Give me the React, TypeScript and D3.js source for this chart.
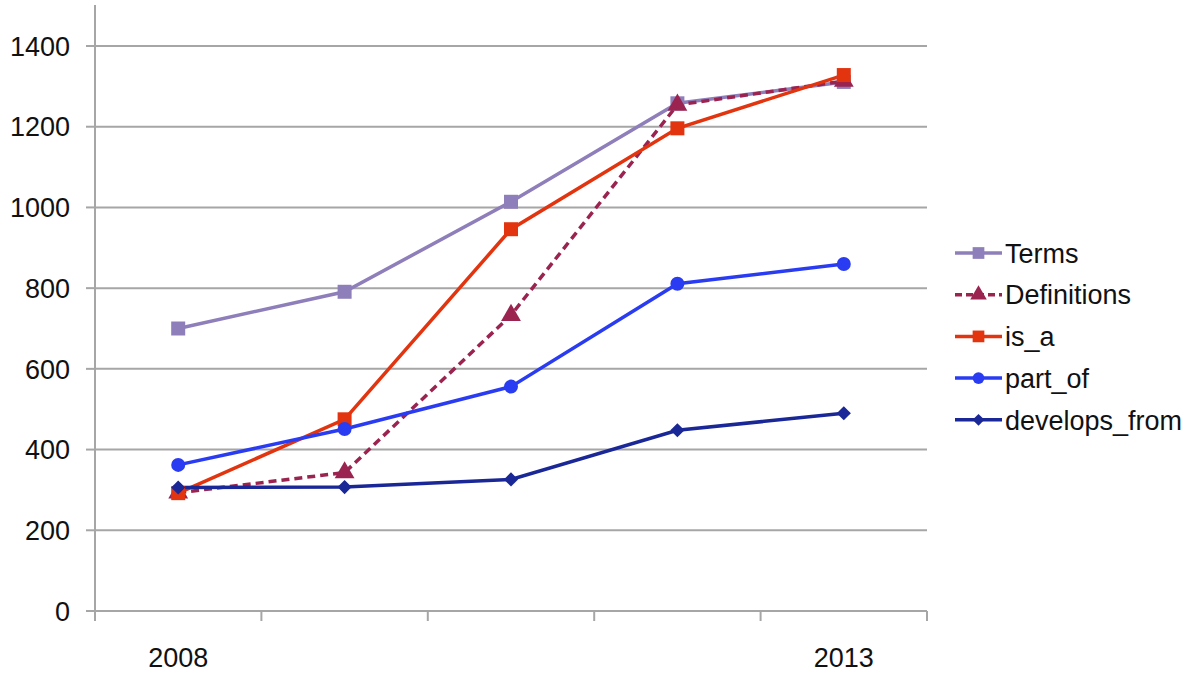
import React, { useRef, useEffect } from "react";
import * as d3 from "d3";

const categories = ["2008", "2009", "2010", "2011", "2013"];
const tickLabels = ["2008", "", "", "", "2013"];
const yTicks = [0, 200, 400, 600, 800, 1000, 1200, 1400];

const terms = [700, 791, 1014, 1258, 1311];
const definitions = [293, 343, 733, 1254, 1313];
const isA = [292, 475, 946, 1196, 1328];
const partOf = [362, 451, 556, 811, 860];
const developsFrom = [306, 307, 326, 448, 490];

const seriesNames = ["Terms", "Definitions", "is_a", "part_of", "develops_from"];
const seriesValues = [terms, definitions, isA, partOf, developsFrom];

const colors = ["#8E7EBA", "#9A2350", "#E2340F", "#2A3CF2", "#1A2796"];
const symbols = [d3.symbolSquare, d3.symbolTriangle, d3.symbolSquare, d3.symbolCircle, d3.symbolSquare];
const symbolSizes = [196, 170, 196, 154, 100];
const symbolRotate = [0, 0, 0, 0, 45];

const App = () => {
  const svgRef = useRef<SVGSVGElement>(null);

  useEffect(() => {
    const svg = d3.select(svgRef.current);
    svg.selectAll("*").remove();

    const left = 95;
    const right = 927;
    const bottom = 611;
    const top = 46;
    const font = "'Liberation Sans', Arial, Helvetica, sans-serif";
    const fontSize = 27;

    const x = d3.scaleBand().domain(categories).range([left, right]);
    const y = d3.scaleLinear().domain([0, 1400]).range([bottom, top]);
    const cx = (c) => x(c) + x.bandwidth() / 2;

    // grid
    svg
      .append("g")
      .selectAll("line")
      .data(yTicks.filter((t) => t > 0))
      .enter()
      .append("line")
      .attr("x1", left)
      .attr("x2", right)
      .attr("y1", (d) => y(d))
      .attr("y2", (d) => y(d))
      .attr("stroke", "#A6A6A6")
      .attr("stroke-width", 2);

    // y axis
    svg
      .append("line")
      .attr("x1", left)
      .attr("x2", left)
      .attr("y1", 5)
      .attr("y2", bottom)
      .attr("stroke", "#A6A6A6")
      .attr("stroke-width", 2);

    const yAxis = svg.append("g");
    yAxis
      .selectAll("line")
      .data(yTicks)
      .enter()
      .append("line")
      .attr("x1", left - 9)
      .attr("x2", left)
      .attr("y1", (d) => y(d))
      .attr("y2", (d) => y(d))
      .attr("stroke", "#A6A6A6")
      .attr("stroke-width", 2);
    yAxis
      .selectAll("text")
      .data(yTicks)
      .enter()
      .append("text")
      .attr("x", 70)
      .attr("y", (d) => y(d))
      .attr("dy", "0.36em")
      .attr("text-anchor", "end")
      .attr("font-family", font)
      .attr("font-size", fontSize)
      .attr("fill", "#111")
      .text((d) => d);

    // x axis
    svg
      .append("line")
      .attr("x1", left - 9)
      .attr("x2", right)
      .attr("y1", bottom)
      .attr("y2", bottom)
      .attr("stroke", "#A6A6A6")
      .attr("stroke-width", 2);

    const bounds = categories.map((c) => x(c)).concat([right]);
    svg
      .append("g")
      .selectAll("line")
      .data(bounds)
      .enter()
      .append("line")
      .attr("x1", (d) => d)
      .attr("x2", (d) => d)
      .attr("y1", bottom)
      .attr("y2", bottom + 10)
      .attr("stroke", "#A6A6A6")
      .attr("stroke-width", 2);

    svg
      .append("g")
      .selectAll("text")
      .data(categories)
      .enter()
      .append("text")
      .attr("x", (d) => cx(d))
      .attr("y", 667)
      .attr("text-anchor", "middle")
      .attr("font-family", font)
      .attr("font-size", fontSize)
      .attr("fill", "#111")
      .text((d, i) => tickLabels[i]);

    // series
    const line = d3
      .line<number>()
      .x((d, i) => cx(categories[i]))
      .y((d) => y(d));

    seriesValues.forEach((vals, s) => {
      svg
        .append("path")
        .datum(vals)
        .attr("fill", "none")
        .attr("stroke", colors[s])
        .attr("stroke-width", 3.5)
        .attr("stroke-dasharray", s === 1 ? "8,5" : null)
        .attr("d", line);
    });

    seriesValues.forEach((vals, s) => {
      svg
        .append("g")
        .selectAll("path")
        .data(vals)
        .enter()
        .append("path")
        .attr(
          "transform",
          (d, i) => `translate(${cx(categories[i])},${y(d)}) rotate(${symbolRotate[s]})`
        )
        .attr("d", d3.symbol().type(symbols[s]).size(symbolSizes[s]))
        .attr("fill", colors[s]);
    });

    // legend
    const legend = svg.append("g");
    seriesNames.forEach((name, s) => {
      const ly = 253 + s * 41.7;
      legend
        .append("line")
        .attr("x1", 955)
        .attr("x2", 1002)
        .attr("y1", ly)
        .attr("y2", ly)
        .attr("stroke", colors[s])
        .attr("stroke-width", 3.5)
        .attr("stroke-dasharray", s === 1 ? "7,4" : null);
      legend
        .append("path")
        .attr("transform", `translate(978.5,${ly}) rotate(${symbolRotate[s]})`)
        .attr("d", d3.symbol().type(symbols[s]).size(symbolSizes[s] * 0.7))
        .attr("fill", colors[s]);
      legend
        .append("text")
        .attr("x", 1005)
        .attr("y", ly)
        .attr("dy", "0.36em")
        .attr("font-family", font)
        .attr("font-size", fontSize)
        .attr("fill", "#111")
        .text(name);
    });
  }, []);

  return (
    <svg
      ref={svgRef}
      width={1200}
      height={681}
      style={{ position: "absolute", left: 0, top: 0, background: "#fff" }}
    />
  );
};

export default App;
